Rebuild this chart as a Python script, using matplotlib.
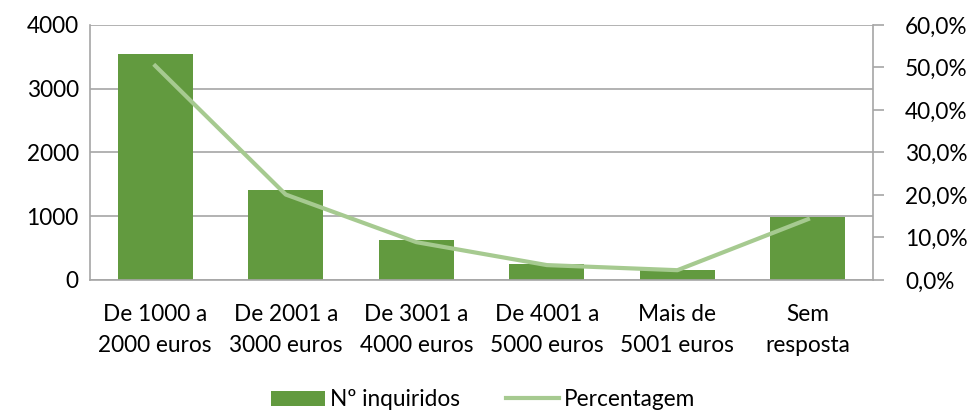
import numpy as np
import matplotlib.pyplot as plt
from matplotlib.ticker import FuncFormatter

plt.rcParams['font.family'] = ['Lato', 'DejaVu Sans']

# DATA
categories = ["De 1000 a\n2000 euros", "De 2001 a\n3000 euros", "De 3001 a\n4000 euros",
              "De 4001 a\n5000 euros", "Mais de\n5001 euros", "Sem\nresposta"]
n_inquiridos = [3540, 1407, 627, 246, 162, 993]
percentagem = [50.4, 20.1, 8.9, 3.5, 2.3, 14.3]

BAR_COLOR = "#629a3f"
LINE_COLOR = "#a6ca90"
GRID_COLOR = "#a6a6a6"
FS = 16.3

fig = plt.figure(figsize=(9.67, 4.16), dpi=100)
ax = fig.add_axes([0.093, 0.327, 0.81, 0.613])
x = np.arange(len(categories))

ax.bar(x, n_inquiridos, width=0.575, color=BAR_COLOR, label="Nº inquiridos", zorder=2)
ax.set_xlim(-0.5, len(categories) - 0.5)
ax.set_ylim(0, 4000)
ax.set_yticks(np.arange(0, 4001, 1000))
ax.yaxis.grid(True, color=GRID_COLOR, linewidth=1.2, zorder=0)
ax.set_axisbelow(True)
ax.set_xticks(x)
ax.set_xticklabels(categories, fontsize=FS, linespacing=1.6)
ax.tick_params(axis='both', length=0, labelsize=FS)
ax.tick_params(axis='x', pad=17)
ax.tick_params(axis='y', pad=8)
for s in ["top", "right"]:
    ax.spines[s].set_visible(False)
for s in ["left", "bottom"]:
    ax.spines[s].set_color(GRID_COLOR)
    ax.spines[s].set_linewidth(1.2)

ax2 = ax.twinx()
ax2.plot(x, percentagem, color=LINE_COLOR, linewidth=3, label="Percentagem", zorder=3)
ax2.set_ylim(0, 60)
ax2.set_yticks(np.arange(0, 61, 10))
ax2.yaxis.set_major_formatter(FuncFormatter(lambda v, p: f"{v:.1f}%".replace(".", ",")))
ax2.tick_params(axis='y', direction='out', length=8, width=1.2, color=GRID_COLOR,
                labelsize=FS, pad=15)
for s in ["top", "left", "bottom"]:
    ax2.spines[s].set_visible(False)
ax2.spines["right"].set_color(GRID_COLOR)
ax2.spines["right"].set_linewidth(1.2)

h1, l1 = ax.get_legend_handles_labels()
h2, l2 = ax2.get_legend_handles_labels()
fig.legend(h1 + h2, l1 + l2, loc="lower center", bbox_to_anchor=(0.5, -0.035), ncol=2,
           frameon=False, fontsize=FS, handlelength=2.35, handleheight=0.65,
           columnspacing=2.0, handletextpad=0.25)

fig.savefig("out.png", dpi=100)
